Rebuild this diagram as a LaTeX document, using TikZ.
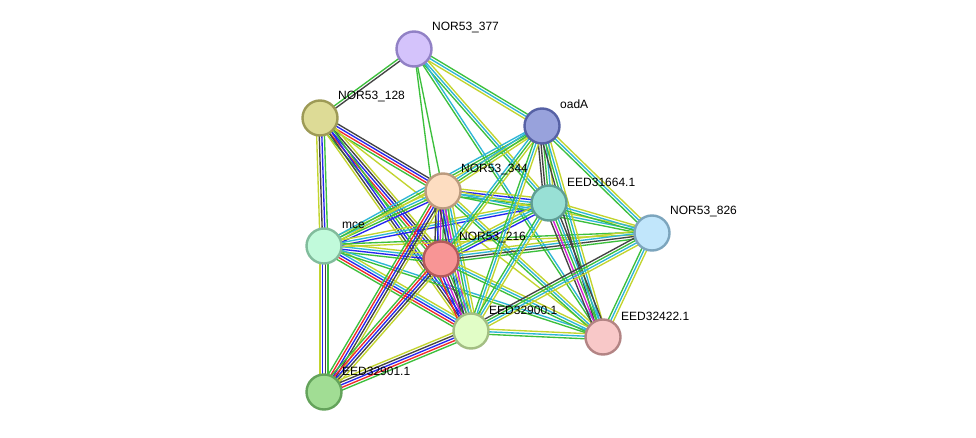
\documentclass[tikz,border=0pt]{standalone}
\usepackage{fontspec}
\setmainfont{Liberation Sans}
\usetikzlibrary{calc,backgrounds}
\definecolor{sgreen}{HTML}{3CC03C}
\definecolor{syellow}{HTML}{C2D42E}
\definecolor{scyan}{HTML}{2EB6D6}
\definecolor{sblack}{HTML}{444444}
\definecolor{sred}{HTML}{F02A2A}
\definecolor{sblue}{HTML}{2626F0}
\definecolor{smagenta}{HTML}{D41ED4}
\tikzset{
  prot/.style={circle,minimum size=35pt,inner sep=0pt,line width=2.4pt},
  lbl/.style={anchor=west,inner sep=0pt,font=\fontsize{12}{14}\selectfont,text=black},
  eline/.style={line width=1.35pt}
}
\newcommand\sedge[3]{%
  \gdef\nlines{0}%
  \foreach \c in {#3}{\pgfmathtruncatemacro\tmpn{\nlines+1}\global\let\nlines\tmpn}%
  \foreach \c [count=\i] in {#3}{%
    \pgfmathsetmacro\off{(\i-(\nlines+1)/2)*2.6}%
    \draw[eline,\c] ($(#1.center)!\off pt!90:(#2.center)$) -- ($(#2.center)!\off pt!-90:(#1.center)$);
  }%
}
\begin{document}
\begin{tikzpicture}[x=1pt,y=-1pt]
\useasboundingbox (0,0) rectangle (976,438);
\node[prot,fill={rgb,255:red,212;green,195;blue,251},draw={rgb,255:red,145;green,129;blue,197}] (n377) at (414,49) {};
\node[prot,fill={rgb,255:red,221;green,219;blue,150},draw={rgb,255:red,157;green,154;blue,86}] (n128) at (320,118) {};
\node[prot,fill={rgb,255:red,152;green,162;blue,220},draw={rgb,255:red,86;green,97;blue,165}] (oadA) at (542,126) {};
\node[prot,fill={rgb,255:red,253;green,221;blue,193},draw={rgb,255:red,187;green,155;blue,126}] (n344) at (443,191) {};
\node[prot,fill={rgb,255:red,152;green,224;blue,213},draw={rgb,255:red,95;green,157;blue,148}] (e31664) at (549,203) {};
\node[prot,fill={rgb,255:red,193;green,230;blue,251},draw={rgb,255:red,124;green,165;blue,189}] (n826) at (652,233) {};
\node[prot,fill={rgb,255:red,193;green,250;blue,219},draw={rgb,255:red,129;green,188;blue,156}] (mce) at (324,246) {};
\node[prot,fill={rgb,255:red,248;green,149;blue,149},draw={rgb,255:red,179;green,90;blue,90}] (n216) at (441,259) {};
\node[prot,fill={rgb,255:red,225;green,253;blue,198},draw={rgb,255:red,163;green,190;blue,131}] (e32900) at (471,331) {};
\node[prot,fill={rgb,255:red,248;green,200;blue,200},draw={rgb,255:red,179;green,132;blue,132}] (e32422) at (603,337) {};
\node[prot,fill={rgb,255:red,161;green,221;blue,148},draw={rgb,255:red,100;green,163;blue,91}] (e32901) at (324,392) {};
\node[lbl] (t377) at ($(n377)+(18,-21)$) {NOR53\_377};
\node[lbl] (t128) at ($(n128)+(18,-21)$) {NOR53\_128};
\node[lbl] (toadA) at ($(oadA)+(18,-22)$) {oadA};
\node[lbl] (t344) at ($(n344)+(18,-21)$) {NOR53\_344};
\node[lbl] (t31664) at ($(e31664)+(18,-21)$) {EED31664.1};
\node[lbl] (t826) at ($(n826)+(18,-21)$) {NOR53\_826};
\node[lbl] (tmce) at ($(mce)+(18,-21)$) {mce};
\node[lbl] (t216) at ($(n216)+(18,-21)$) {NOR53\_216};
\node[lbl] (t32900) at ($(e32900)+(18,-21)$) {EED32900.1};
\node[lbl] (t32422) at ($(e32422)+(18,-21)$) {EED32422.1};
\node[lbl] (t32901) at ($(e32901)+(18,-21)$) {EED32901.1};
\begin{pgfonlayer}{background}
\fill[white] (0,0) rectangle (976,438);
\sedge{n377}{n128}{sgreen,sblack}
\sedge{n377}{n344}{sgreen}
\sedge{n377}{n216}{sgreen}
\sedge{n377}{oadA}{syellow,scyan,sgreen}
\sedge{n377}{e31664}{sgreen,scyan,syellow}
\sedge{n377}{e32422}{sgreen,scyan}
\sedge{n128}{mce}{syellow,sblack,sblue,sgreen}
\sedge{n128}{n344}{sgreen,sred,sblue,sblack}
\sedge{n128}{n216}{sgreen,sred,sblue,sblack,syellow}
\sedge{n128}{e32900}{syellow,sblack,sblue,sgreen}
\sedge{n128}{e32422}{syellow}
\sedge{mce}{n344}{sblue,sgreen,scyan,syellow}
\sedge{mce}{e31664}{sblue,scyan,syellow}
\sedge{mce}{n216}{sgreen,sblue,scyan,syellow}
\sedge{mce}{n826}{syellow,sgreen}
\sedge{mce}{e32900}{sgreen,sred,sblue,scyan,syellow}
\sedge{mce}{e32422}{sgreen,scyan}
\sedge{mce}{e32901}{syellow,sblue,sblack,sgreen}
\sedge{mce}{oadA}{syellow,sgreen,scyan}
\sedge{n344}{oadA}{syellow,sgreen,scyan}
\sedge{n344}{e31664}{sgreen,scyan,sblue,syellow}
\sedge{n344}{n826}{sgreen,scyan,syellow}
\sedge{n344}{n216}{sblack,sblue,smagenta,sgreen,scyan,syellow}
\sedge{n344}{e32900}{sblack,sblue,smagenta,sgreen,scyan,syellow}
\sedge{n344}{e32422}{sgreen,scyan,syellow}
\sedge{n344}{e32901}{sgreen,sred,sblue,sblack,syellow}
\sedge{n216}{oadA}{syellow,sgreen,scyan}
\sedge{n216}{e31664}{sblue,sgreen,scyan,syellow}
\sedge{n216}{n826}{sgreen,sblack,scyan,syellow}
\sedge{n216}{e32900}{sred,sblue,smagenta,sblack,sgreen,scyan,syellow}
\sedge{n216}{e32422}{sgreen,scyan,syellow}
\sedge{n216}{e32901}{sgreen,sred,sblue,sblack,syellow}
\sedge{oadA}{e31664}{sblack,sblack,sgreen,scyan,syellow}
\sedge{oadA}{n826}{sgreen,scyan,syellow}
\sedge{oadA}{e32422}{sblack,sgreen,scyan,syellow}
\sedge{oadA}{e32900}{sgreen,scyan,syellow}
\sedge{e31664}{n826}{sgreen,scyan,syellow}
\sedge{e31664}{e32422}{sblack,smagenta,sgreen,scyan,sblack}
\sedge{e31664}{e32900}{sgreen,scyan,syellow}
\sedge{n826}{e32422}{sgreen,scyan,syellow}
\sedge{n826}{e32900}{sblack,sgreen,scyan,syellow}
\sedge{e32900}{e32422}{sgreen,scyan,syellow}
\sedge{e32900}{e32901}{syellow,sblack,sblue,sred,sgreen}
\end{pgfonlayer}
\end{tikzpicture}
\end{document}
